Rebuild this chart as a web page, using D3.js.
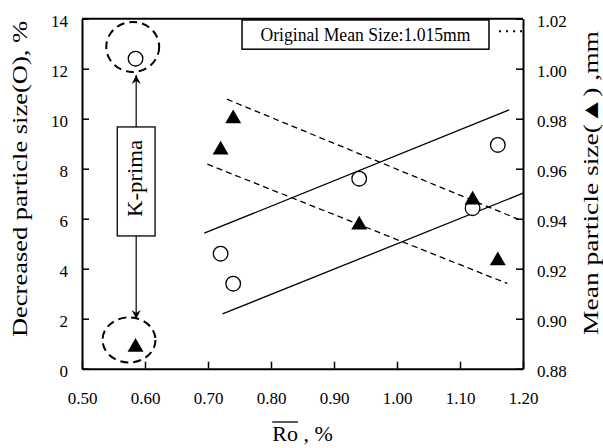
<!DOCTYPE html>
<html>
<head>
<meta charset="utf-8">
<script src="https://cdn.jsdelivr.net/npm/d3@7"></script>
<style>
  body { margin: 0; background: #fff; }
  svg text { font-family: 'Liberation Serif', 'Times New Roman', serif; fill: #000; }
  .axis path, .axis line { stroke: #000; }
  .axis text { font-size: 17px; }
</style>
</head>
<body>
<div id="plot-container"></div>
<script>
// The data
var ro = [0.585, 0.72, 0.74, 0.94, 1.12, 1.16];
var decreasedSize = [12.4, 4.6, 3.4, 7.6, 6.42, 8.95];      // % (left axis, circles)
var meanSize = [0.8886, 0.9675, 0.980, 0.9375, 0.9475, 0.9232]; // mm (right axis, triangles)

var xTicks = [0.50, 0.60, 0.70, 0.80, 0.90, 1.00, 1.10, 1.20];
var leftTicks = [0, 2, 4, 6, 8, 10, 12, 14];
var rightTicks = [0.88, 0.90, 0.92, 0.94, 0.96, 0.98, 1.00, 1.02];

// trend lines, [x, y] end points
var solidLines = [[[0.694, 5.42], [1.178, 10.35]], [[0.723, 2.19], [1.20, 7.02]]];      // left axis
var dashedLines = [[[0.73, 0.9878], [1.20, 0.9390]], [[0.699, 0.9618], [1.175, 0.9141]]]; // right axis
var originalMean = 1.015;

// The configuration parameters
var totalWidth = 603, totalHeight = 448;
var margins = {top: 18.7, bottom: 79.3, left: 82, right: 80};
var width = totalWidth - margins.left - margins.right;
var height = totalHeight - margins.top - margins.bottom;

var xScale = d3.scaleLinear().domain([0.5, 1.2]).range([0, width]);
var yLeft = d3.scaleLinear().domain([0, 14]).range([height, 0]);
var yRight = d3.scaleLinear().domain([0.88, 1.02]).range([height, 0]);
var line = d3.line().x(function(d) { return xScale(d[0]); });

var svg = d3.select('#plot-container').append('svg').attr('width', totalWidth).attr('height', totalHeight);
var plot = svg.append('g').attr('transform', 'translate(' + [margins.left, margins.top] + ')');

// top border
plot.append('line').attr('x1', 0).attr('x2', width).attr('y1', 0).attr('y2', 0).attr('stroke', '#000').attr('stroke-width', 2);

// axes
var xAxis = plot.append('g').attr('class', 'axis').attr('transform', 'translate(0,' + height + ')')
  .call(d3.axisBottom(xScale).tickValues(xTicks).tickFormat(d3.format('.2f')).tickSizeInner(-7).tickSizeOuter(0).tickPadding(23));
var leftAxis = plot.append('g').attr('class', 'axis')
  .call(d3.axisLeft(yLeft).tickValues(leftTicks).tickFormat(d3.format('d')).tickSizeInner(-7).tickSizeOuter(0).tickPadding(14));
var rightAxis = plot.append('g').attr('class', 'axis').attr('transform', 'translate(' + width + ',0)')
  .call(d3.axisRight(yRight).tickValues(rightTicks).tickFormat(d3.format('.2f')).tickSizeInner(-7).tickSizeOuter(0).tickPadding(14));
svg.selectAll('.axis').attr('font-family', null);
svg.selectAll('.axis path.domain').attr('stroke-width', 2);
svg.selectAll('.axis .tick line').attr('stroke-width', 1.5);
leftAxis.selectAll('text').attr('dy', '0.45em');
rightAxis.selectAll('text').attr('dy', '0.45em');

// trend lines
plot.selectAll('path.solid').data(solidLines).enter().append('path').attr('class', 'solid')
  .attr('d', function(d) { return line.y(function(p) { return yLeft(p[1]); })(d); })
  .attr('fill', 'none').attr('stroke', '#000').attr('stroke-width', 1.3);
plot.selectAll('path.dashed').data(dashedLines).enter().append('path').attr('class', 'dashed')
  .attr('d', function(d) { return line.y(function(p) { return yRight(p[1]); })(d); })
  .attr('fill', 'none').attr('stroke', '#000').attr('stroke-width', 1.3).attr('stroke-dasharray', '6,4');

// original mean size note
var noteBox = {x0: 0.754, x1: 1.146, y0: 13.95, y1: 12.78};
plot.append('line').attr('x1', xScale(1.162)).attr('x2', xScale(1.2)).attr('y1', yRight(originalMean)).attr('y2', yRight(originalMean))
  .attr('stroke', '#000').attr('stroke-width', 2).attr('stroke-dasharray', '2,5');
plot.append('rect').attr('x', xScale(noteBox.x0)).attr('y', yLeft(noteBox.y0))
  .attr('width', xScale(noteBox.x1) - xScale(noteBox.x0)).attr('height', yLeft(noteBox.y1) - yLeft(noteBox.y0))
  .attr('fill', '#fff').attr('stroke', '#000').attr('stroke-width', 1.5);
plot.append('text').attr('x', xScale((noteBox.x0 + noteBox.x1) / 2)).attr('y', yLeft(noteBox.y1) - 8)
  .attr('text-anchor', 'middle').style('font-size', '18px')
  .attr('textLength', 210).attr('lengthAdjust', 'spacingAndGlyphs')
  .text('Original Mean Size:' + originalMean.toFixed(3) + 'mm');

// K-prima annotation
var kBox = {x0: 0.556, x1: 0.616, y0: 9.67, y1: 5.31};
var arrowX = 0.586;
svg.append('defs').append('marker').attr('id', 'arrow').attr('viewBox', '-10 -6 12 12')
  .attr('refX', 0).attr('refY', 0).attr('markerWidth', 12).attr('markerHeight', 12).attr('markerUnits', 'userSpaceOnUse')
  .attr('orient', 'auto').append('path').attr('d', 'M0,0 L-9,-4.5 L-6,0 L-9,4.5 Z').attr('fill', '#000');
plot.selectAll('line.arrow').data([[kBox.y0, 11.75], [kBox.y1, 1.99]]).enter().append('line').attr('class', 'arrow')
  .attr('x1', xScale(arrowX)).attr('x2', xScale(arrowX))
  .attr('y1', function(d) { return yLeft(d[0]); }).attr('y2', function(d) { return yLeft(d[1]); })
  .attr('stroke', '#000').attr('stroke-width', 1.2).attr('marker-end', 'url(#arrow)');
plot.append('rect').attr('x', xScale(kBox.x0)).attr('y', yLeft(kBox.y0))
  .attr('width', xScale(kBox.x1) - xScale(kBox.x0)).attr('height', yLeft(kBox.y1) - yLeft(kBox.y0))
  .attr('fill', '#fff').attr('stroke', '#000').attr('stroke-width', 1.3);
plot.append('text').attr('transform', 'translate(' + [xScale(arrowX) + 6, yLeft((kBox.y0 + kBox.y1) / 2) - 3] + ') rotate(-90)')
  .attr('text-anchor', 'middle').style('font-size', '21px')
  .attr('textLength', 77).attr('lengthAdjust', 'spacingAndGlyphs').text('K-prima');

// dashed rings round the K-prima points
var rings = [{x: 0.5805, y: 12.87, rx: 0.042, ry: 1.0}, {x: 0.5746, y: 1.15, rx: 0.042, ry: 0.9}];
plot.selectAll('ellipse.ring').data(rings).enter().append('ellipse').attr('class', 'ring')
  .attr('cx', function(d) { return xScale(d.x); }).attr('cy', function(d) { return yLeft(d.y); })
  .attr('rx', function(d) { return xScale(d.x + d.rx) - xScale(d.x); })
  .attr('ry', function(d) { return yLeft(0) - yLeft(d.ry); })
  .attr('fill', 'none').attr('stroke', '#000').attr('stroke-width', 2).attr('stroke-dasharray', '8,5');

// markers
plot.selectAll('circle.pt').data(ro).enter().append('circle').attr('class', 'pt')
  .attr('cx', function(d) { return xScale(d); }).attr('cy', function(d, i) { return yLeft(decreasedSize[i]); })
  .attr('r', 7.3).attr('fill', '#fff').attr('stroke', '#000').attr('stroke-width', 1.3);
plot.selectAll('path.tri').data(ro).enter().append('path').attr('class', 'tri')
  .attr('transform', function(d, i) { return 'translate(' + [xScale(d), yRight(meanSize[i])] + ')'; })
  .attr('d', d3.symbol().type(d3.symbolTriangle).size(110)).attr('fill', '#000');

// axis titles
svg.append('text').attr('transform', 'translate(' + [27, 179] + ') rotate(-90)')
  .attr('text-anchor', 'middle').style('font-size', '22px')
  .attr('textLength', 316).attr('lengthAdjust', 'spacingAndGlyphs').text('Decreased particle size(O), %');
svg.append('text').attr('transform', 'translate(' + [598, 183] + ') rotate(-90)')
  .attr('text-anchor', 'middle').style('font-size', '22px')
  .attr('textLength', 304).attr('lengthAdjust', 'spacingAndGlyphs').text('Mean particle size(\u25B2) ,mm');
var xTitle = svg.append('text').attr('x', margins.left + width / 2).attr('y', 441)
  .attr('text-anchor', 'middle').style('font-size', '22px');
var roSpan = xTitle.append('tspan').text('Ro');
xTitle.append('tspan').text(' , %');
var roBox = roSpan.node().getBBox();
svg.append('line').attr('x1', roBox.x).attr('x2', roBox.x + roBox.width)
  .attr('y1', roBox.y + 1).attr('y2', roBox.y + 1).attr('stroke', '#000').attr('stroke-width', 1.3);
</script>
</body>
</html>
